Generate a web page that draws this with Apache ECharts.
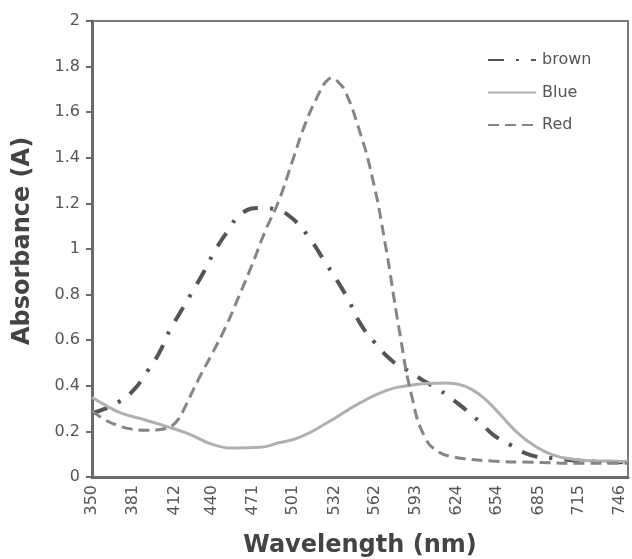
<!DOCTYPE html>
<html>
<head>
<meta charset="utf-8">
<script src="https://cdn.jsdelivr.net/npm/echarts@6/dist/echarts.min.js"></script>
<style>
html,body{margin:0;padding:0;background:#fff;}
#chart{width:632px;height:559px;}
</style>
</head>
<body>
<div id="chart"></div>
<script>
// Tick labels on the wavelength axis
var xTickLabels = [350,381,412,440,471,501,532,562,593,624,654,685,715,746];

// brown (dash-dot)
var brownWl  = [350,360,369,381,391,400,408,416,427,433,442,452,463,477,489,501,514,524,534,542,551,562,575,586,598,611,626,641,651,664,679,694,720,752];
var brownAbs = [0.28,0.30,0.325,0.38,0.46,0.54,0.64,0.72,0.83,0.89,0.99,1.08,1.16,1.18,1.17,1.13,1.04,0.95,0.86,0.78,0.675,0.59,0.51,0.47,0.425,0.38,0.315,0.24,0.185,0.14,0.096,0.083,0.07,0.065];

// Blue (solid)
var blueWl  = [350,360,372,390,407,422,442,459,476,490,506,526,551,571,586,601,616,626,636,646,656,668,681,696,711,730,752];
var blueAbs = [0.35,0.315,0.28,0.25,0.22,0.19,0.14,0.127,0.13,0.15,0.175,0.237,0.325,0.38,0.40,0.41,0.412,0.405,0.38,0.335,0.275,0.20,0.14,0.096,0.078,0.07,0.068];

// Red (dashed)
var redWl  = [350,360,370,380,390,400,405,410,415,420,430,440,450,460,470,480,490,500,510,520,525,530,535,540,550,560,570,580,590,600,610,620,630,650,680,720,752];
var redAbs = [0.29,0.25,0.225,0.21,0.205,0.207,0.213,0.225,0.255,0.31,0.43,0.54,0.655,0.79,0.93,1.08,1.21,1.38,1.55,1.68,1.73,1.75,1.73,1.69,1.53,1.32,1.02,0.66,0.35,0.17,0.11,0.09,0.08,0.07,0.065,0.06,0.06];

function pairs(xs, ys){ return xs.map(function(x,i){ return [x, ys[i]]; }); }

var chart = echarts.init(document.getElementById('chart'), null, {renderer:'canvas'});
var font = '"DejaVu Sans", sans-serif';
chart.setOption({
  animation: false,
  backgroundColor: '#fff',
  grid: {left: 92, top: 21, right: 4, bottom: 82, outerBoundsMode: 'none', containLabel: false,
         show: true, borderColor: '#7a7a7a', borderWidth: 2, backgroundColor: 'transparent'},
  legend: {
    orient: 'vertical', left: 482, top: 47,
    itemWidth: 48, itemHeight: 16, itemGap: 16.5,
    itemStyle: {opacity: 0},
    textStyle: {fontFamily: font, fontSize: 16, color: '#555', padding: [0,0,0,1]},
    data: ['brown','Blue','Red']
  },
  xAxis: {
    type: 'value', min: 350, max: 752,
    name: 'Wavelength (nm)', nameLocation: 'middle', nameGap: 57,
    nameTextStyle: {fontFamily: font, fontSize: 24, fontWeight: 'bold', color: '#444'},
    axisLine: {show: true, lineStyle: {color: '#6a6a6a', width: 3}},
    axisTick: {show: false},
    splitLine: {show: false},
    axisLabel: {customValues: xTickLabels, rotate: 90, margin: 8, fontFamily: font, fontSize: 16, color: '#555'}
  },
  yAxis: {
    type: 'value', min: 0, max: 2, interval: 0.2,
    name: 'Absorbance (A)', nameLocation: 'middle', nameGap: 57,
    nameTextStyle: {fontFamily: font, fontSize: 24, fontWeight: 'bold', color: '#444', padding: [0,0,0,16]},
    axisLine: {show: true, lineStyle: {color: '#6a6a6a', width: 3}},
    axisTick: {show: true, length: 6, lineStyle: {color: '#6a6a6a', width: 2}},
    splitLine: {show: false},
    axisLabel: {margin: 12, fontFamily: font, fontSize: 16, color: '#555'}
  },
  series: [
    {name: 'brown', type: 'line', data: pairs(brownWl, brownAbs), symbol: 'none', smooth: 0.5,
     lineStyle: {color: '#555', width: 4, type: [16,12,3,12], cap: 'butt'}, itemStyle: {color: '#555'}},
    {name: 'Blue', type: 'line', data: pairs(blueWl, blueAbs), symbol: 'none', smooth: 0.5,
     lineStyle: {color: '#b0b0b0', width: 3}, itemStyle: {color: '#b0b0b0'}},
    {name: 'Red', type: 'line', data: pairs(redWl, redAbs), symbol: 'none', smooth: 0.5,
     lineStyle: {color: '#858585', width: 3, type: [11,6]}, itemStyle: {color: '#858585'}}
  ]
});
</script>
</body>
</html>
